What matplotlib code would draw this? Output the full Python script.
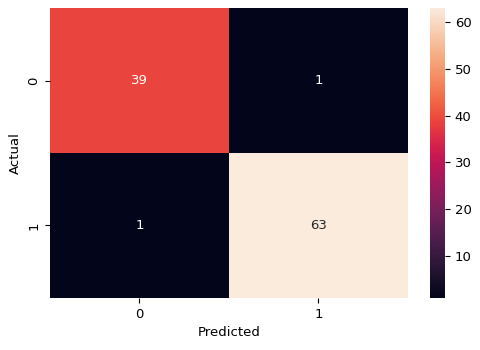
import numpy as np
import matplotlib
matplotlib.use('Agg')
import matplotlib.pyplot as plt
import seaborn as sns

# confusion matrix values
labels = ['0', '1']
cm = np.array([[39, 1],
               [1, 63]])

fig = plt.figure(figsize=(4.8, 3.5), dpi=100)
ax = fig.add_axes([0.104, 0.149, 0.746, 0.828])
cax = fig.add_axes([0.896, 0.149, 0.031, 0.828])

sns.heatmap(cm, annot=True, fmt='d', ax=ax, cbar_ax=cax,
            xticklabels=labels, yticklabels=labels,
            annot_kws={'fontsize': 9.5})
ax.set_xlabel('Predicted', fontsize=9.5)
ax.set_ylabel('Actual', fontsize=9.5)
ax.tick_params(labelsize=9.5)
cax.tick_params(labelsize=9.5)

fig.savefig('out.png', dpi=100)
